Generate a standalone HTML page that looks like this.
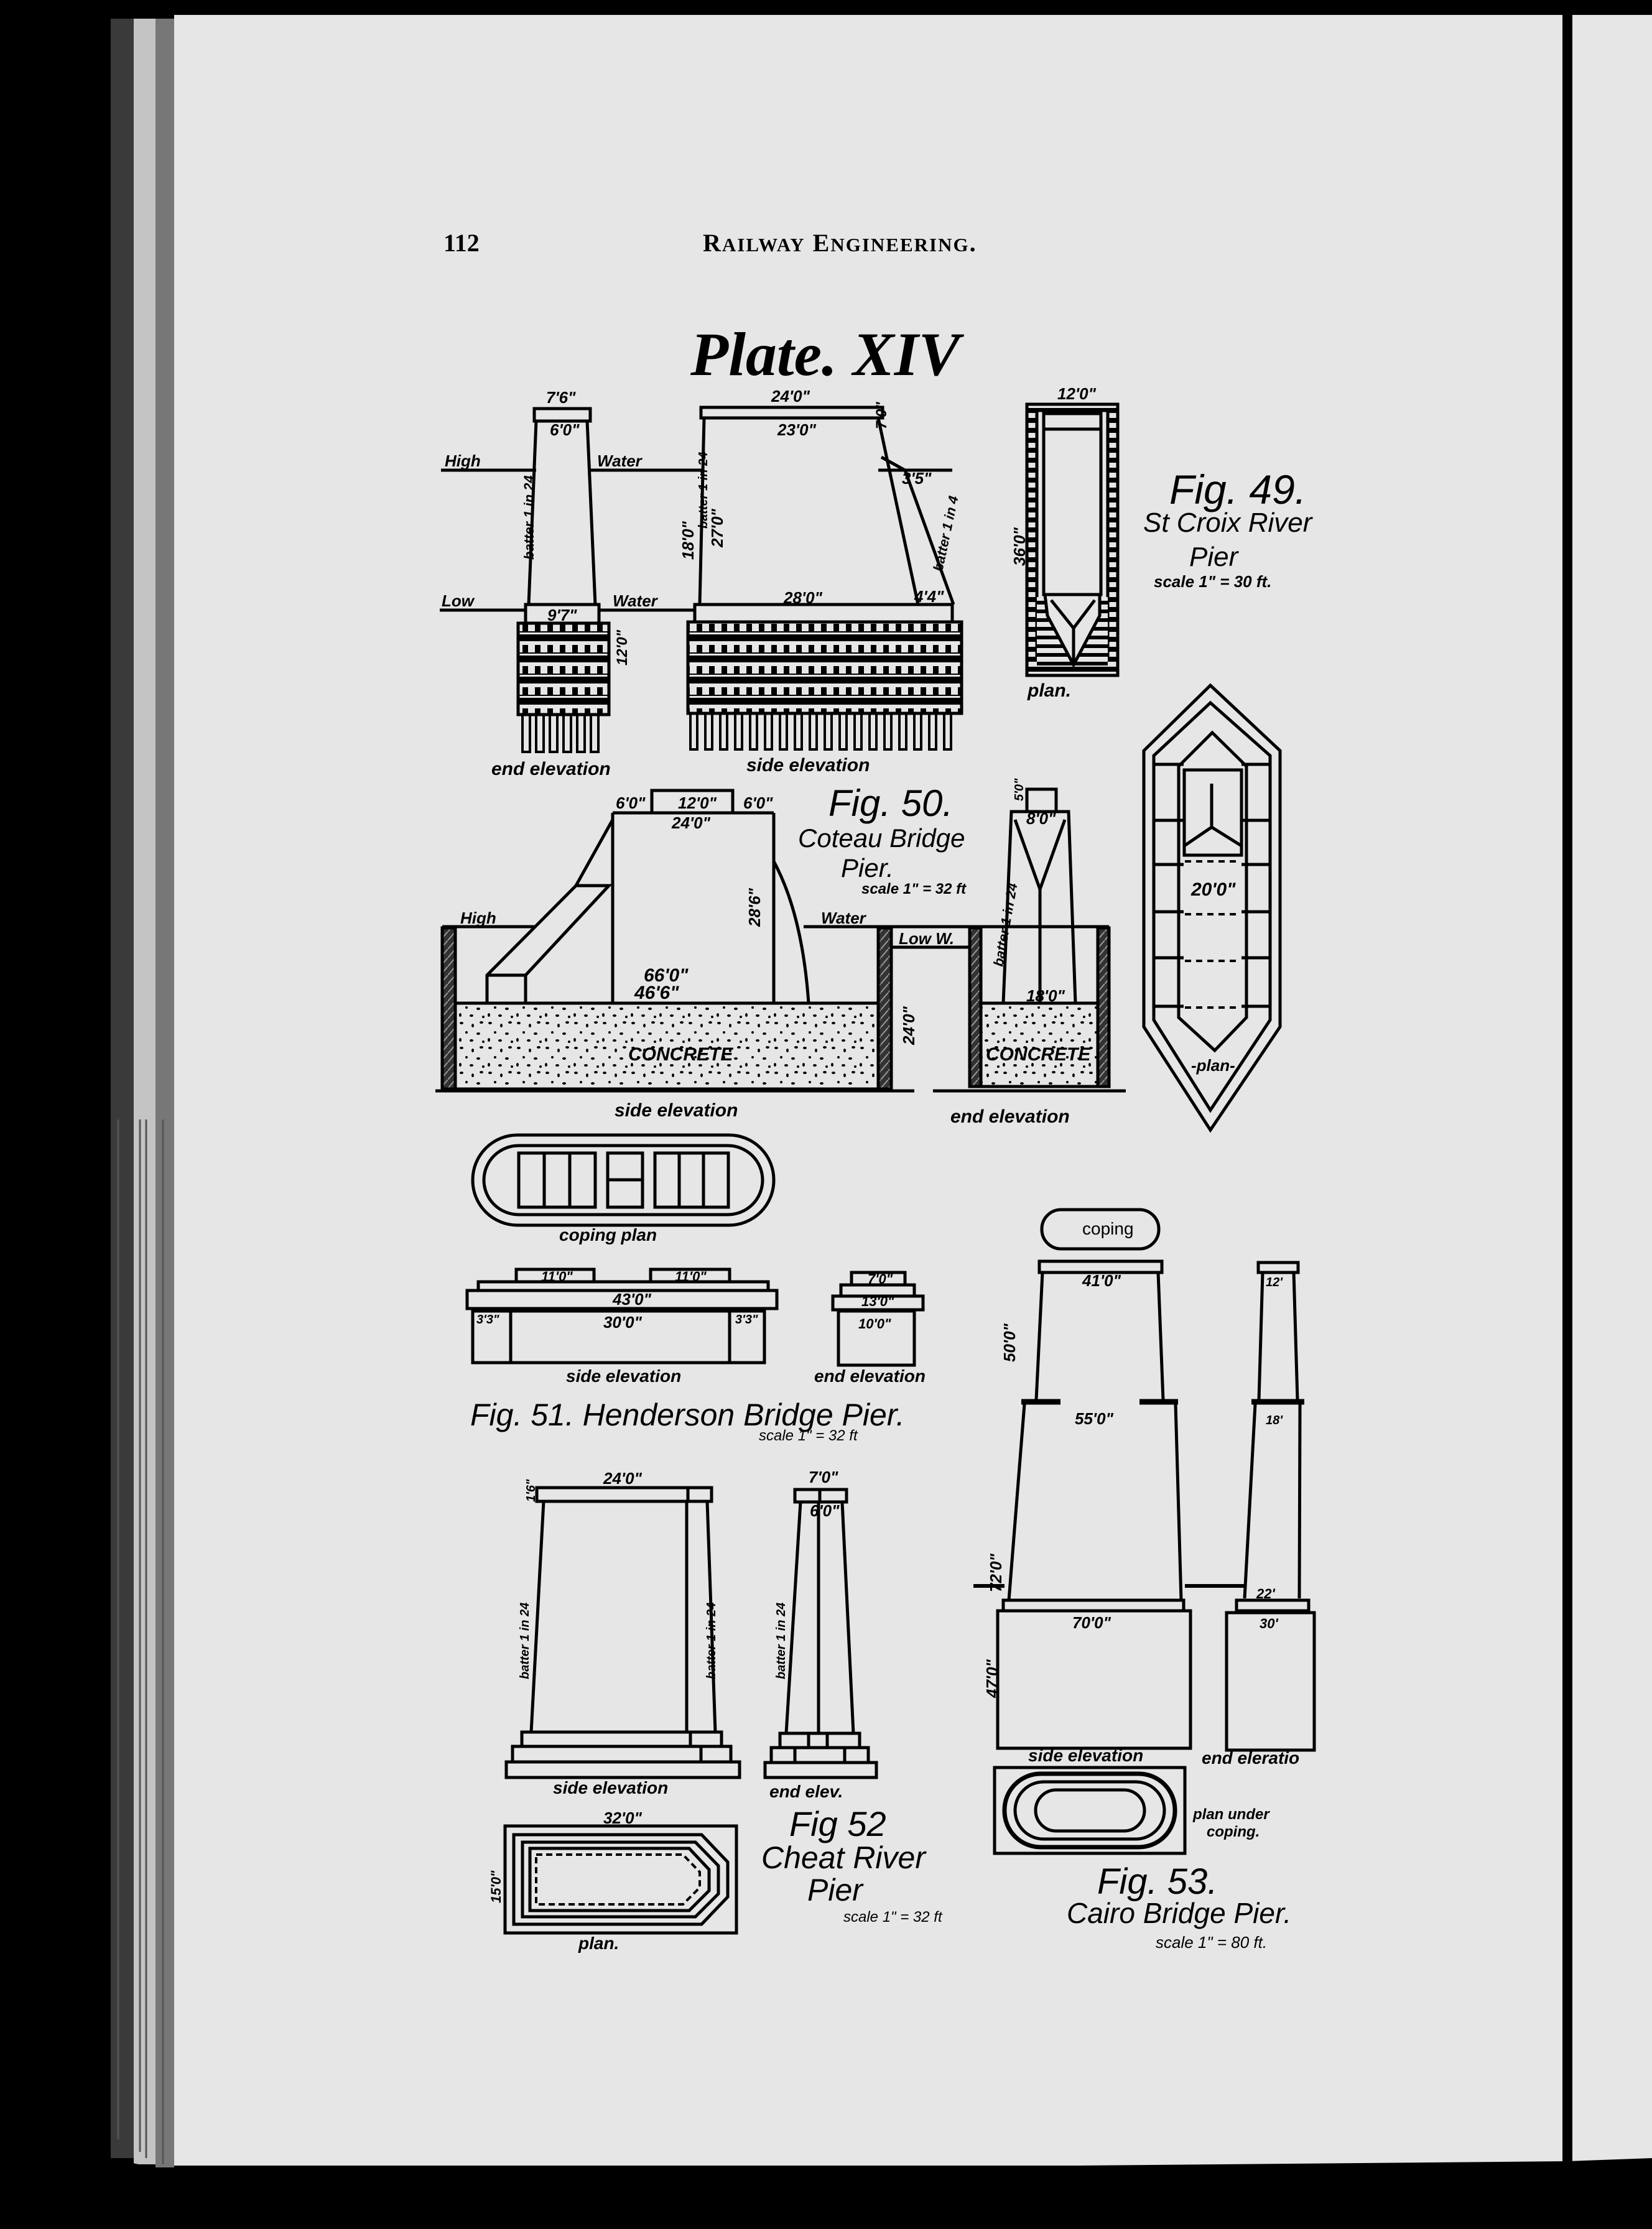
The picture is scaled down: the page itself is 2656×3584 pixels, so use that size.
<!DOCTYPE html>
<html><head><meta charset="utf-8"><style>
html,body{margin:0;padding:0;background:#000;}
svg{display:block}
.h{font-family:"Liberation Sans",sans-serif;font-style:italic;font-weight:bold;fill:#000}
.s{font-family:"Liberation Serif",serif;fill:#000}
</style></head><body>
<svg width="2656" height="3584" viewBox="0 0 2656 3584" xmlns="http://www.w3.org/2000/svg">
<defs>
<pattern id="crib" width="40" height="34" patternUnits="userSpaceOnUse">
<rect width="40" height="34" fill="#e6e6e6"/>
<rect y="0" width="40" height="11" fill="#000"/>
<rect x="0" y="17" width="9" height="12" fill="#000"/>
<rect x="20" y="17" width="9" height="12" fill="#000"/>
<rect y="29" width="40" height="2" fill="#000"/>
</pattern>
<pattern id="conc" width="46" height="40" patternUnits="userSpaceOnUse">
<rect width="46" height="40" fill="#e6e6e6"/>
<ellipse cx="6" cy="5" rx="3" ry="2" fill="#000"/><ellipse cx="24" cy="9" rx="2" ry="3" fill="#000"/>
<ellipse cx="38" cy="4" rx="3" ry="2" fill="#000"/><ellipse cx="14" cy="20" rx="2" ry="2" fill="#000"/>
<ellipse cx="33" cy="22" rx="3" ry="2" fill="#000"/><ellipse cx="4" cy="32" rx="2" ry="3" fill="#000"/>
<ellipse cx="22" cy="33" rx="3" ry="2" fill="#000"/><ellipse cx="41" cy="35" rx="2" ry="2" fill="#000"/>
</pattern>
<pattern id="wall" width="12" height="14" patternUnits="userSpaceOnUse">
<rect width="12" height="14" fill="#333"/><line x1="0" y1="14" x2="12" y2="0" stroke="#999" stroke-width="2"/>
</pattern>
<pattern id="ladder" width="20" height="16" patternUnits="userSpaceOnUse">
<rect width="20" height="16" fill="#e6e6e6"/><rect y="0" width="20" height="8" fill="#000"/>
</pattern>
<pattern id="hatch" width="20" height="14" patternUnits="userSpaceOnUse">
<rect width="20" height="14" fill="#e6e6e6"/><rect y="0" width="20" height="6" fill="#000"/>
</pattern>
</defs>
<!-- page -->
<rect x="0" y="0" width="2656" height="3584" fill="#000"/>
<rect x="280" y="22" width="2376" height="3460" fill="#e6e6e6"/>
<rect x="178" y="30" width="37" height="3440" fill="#3a3a3a"/>
<rect x="215" y="30" width="35" height="3450" fill="#c4c4c4"/>
<rect x="250" y="30" width="30" height="3455" fill="#777"/>
<g stroke="#555" stroke-width="3">
<line x1="190" y1="1800" x2="190" y2="3440"/><line x1="225" y1="1800" x2="225" y2="3460"/>
<line x1="235" y1="1800" x2="235" y2="3470"/><line x1="262" y1="1800" x2="262" y2="3480"/>
</g>
<polygon points="178,3470 290,3495 2520,3475 2656,3470 2656,3584 0,3584 0,3470" fill="#000"/>
<rect x="2512" y="0" width="16" height="3480" fill="#000"/>
<rect x="0" y="0" width="2656" height="24" fill="#000"/>

<!-- header -->
<text x="713" y="404" class="s" font-size="40" font-weight="bold">112</text>
<text x="1130" y="404" class="s" font-size="40" font-weight="bold" letter-spacing="2">R<tspan font-size="31">AILWAY</tspan> E<tspan font-size="31">NGINEERING</tspan>.</text>
<text x="1110" y="603" class="s" font-size="100" font-weight="bold" font-style="italic">Plate. XIV</text>

<g fill="none" stroke="#000" stroke-width="5">
<!-- Fig 49 end elevation -->
<rect x="859" y="657" width="90" height="20"/>
<polygon points="862,677 944,677 957,972 850,972"/>
<line x1="709" y1="756" x2="862" y2="756"/><line x1="948" y1="756" x2="1130" y2="756"/><line x1="1412" y1="756" x2="1531" y2="756"/>
<line x1="707" y1="981" x2="845" y2="981"/><line x1="963" y1="981" x2="1117" y2="981"/>
<rect x="845" y="972" width="118" height="30"/>
<rect x="833" y="1002" width="146" height="147" fill="url(#crib)"/>
<!-- Fig 49 side elevation -->
<rect x="1127" y="655" width="292" height="17"/>
<polyline points="1132,672 1125,972"/><polyline points="1412,672 1476,972"/>
<polyline points="1417,735 1455,756 1533,972"/>
<rect x="1117" y="972" width="414" height="28"/>
<rect x="1106" y="1000" width="440" height="147" fill="url(#crib)"/>
<!-- Fig 49 plan -->
<rect x="1651" y="650" width="146" height="436" fill="url(#ladder)"/>
<rect x="1667" y="660" width="114" height="400" fill="#e6e6e6"/>
<rect x="1667" y="960" width="114" height="110" fill="url(#hatch)" stroke="none"/>
<polygon points="1678,665 1770,665 1770,956 1678,956" fill="#e6e6e6"/>
<line x1="1678" y1="690" x2="1770" y2="690"/>
<polygon points="1680,956 1768,956 1768,990 1726,1069 1684,990" fill="#e6e6e6"/>
<polyline points="1690,965 1726,1010 1760,965"/><line x1="1726" y1="1010" x2="1726" y2="1065"/>
</g>
<!-- piles -->
<g fill="none" stroke="#000" stroke-width="4">
<path d="M840 1149v60h12v-60M862 1149v60h12v-60M884 1149v60h12v-60M906 1149v60h12v-60M928 1149v60h12v-60M950 1149v60h12v-60"/>
<path d="M1110 1147v58h11v-58M1134 1147v58h11v-58M1158 1147v58h11v-58M1182 1147v58h11v-58M1206 1147v58h11v-58M1230 1147v58h11v-58M1254 1147v58h11v-58M1278 1147v58h11v-58M1302 1147v58h11v-58M1326 1147v58h11v-58M1350 1147v58h11v-58M1374 1147v58h11v-58M1398 1147v58h11v-58M1422 1147v58h11v-58M1446 1147v58h11v-58M1470 1147v58h11v-58M1494 1147v58h11v-58M1518 1147v58h11v-58"/>
</g>
<g class="h" font-size="26">
<text x="878" y="648" class="h">7'6"</text><text x="884" y="700" class="h">6'0"</text>
<text x="715" y="750" class="h">High</text><text x="960" y="750" class="h">Water</text>
<text x="710" y="975" class="h">Low</text><text x="985" y="975" class="h">Water</text>
<text x="880" y="998" class="h">9'7"</text>
<text x="1240" y="646" class="h">24'0"</text><text x="1250" y="700" class="h">23'0"</text>
<text x="1260" y="970" class="h">28'0"</text><text x="1450" y="778" class="h">3'5"</text><text x="1470" y="968" class="h">4'4"</text>
<text x="1700" y="642" class="h">12'0"</text>
<text x="790" y="1246" class="h" font-size="30">end elevation</text>
<text x="1200" y="1240" class="h" font-size="30">side elevation</text>
<text x="1652" y="1120" class="h" font-size="30">plan.</text>
<text transform="translate(858,900) rotate(-90)" class="h" font-size="22">batter 1 in 24</text>
<text transform="translate(1008,1070) rotate(-90)" class="h" font-size="24">12'0"</text>
<text transform="translate(1115,900) rotate(-90)" class="h" font-size="26">18'0"</text>
<text transform="translate(1162,880) rotate(-90)" class="h" font-size="26">27'0"</text>
<text transform="translate(1137,850) rotate(-90)" class="h" font-size="20">batter 1 in 24</text>
<text transform="translate(1515,920) rotate(-78)" class="h" font-size="22">batter 1 in 4</text>
<text transform="translate(1648,910) rotate(-90)" class="h" font-size="26">36'0"</text>
<text transform="translate(1425,690) rotate(-90)" class="h" font-size="24">7'0"</text>
</g>
<g class="h" font-weight="normal">
<text x="1880" y="810" font-size="66" font-weight="normal">Fig. 49.</text>
<text x="1838" y="855" font-size="44" font-weight="normal">St Croix River</text>
<text x="1912" y="910" font-size="44" font-weight="normal">Pier</text>
<text x="1855" y="944" font-size="26">scale 1" = 30 ft.</text>
</g>

<!-- Fig 50 side elevation -->
<g fill="none" stroke="#000" stroke-width="5">
<rect x="732" y="1613" width="680" height="138" fill="url(#conc)"/>
<rect x="711" y="1492" width="21" height="259" fill="url(#wall)"/>
<rect x="1412" y="1492" width="21" height="259" fill="url(#wall)"/>
<rect x="1048" y="1271" width="130" height="36"/>
<line x1="985" y1="1307" x2="1244" y2="1307"/>
<line x1="985" y1="1307" x2="985" y2="1613"/><line x1="1244" y1="1307" x2="1244" y2="1613"/>
<polyline points="985,1318 926,1424 783,1568 783,1613"/>
<polyline points="926,1424 979,1424 845,1568 845,1613"/><line x1="783" y1="1568" x2="845" y2="1568"/>
<path d="M1244 1385 Q1290 1470 1300 1613"/>
<line x1="711" y1="1490" x2="859" y2="1490"/><line x1="1292" y1="1490" x2="1783" y2="1490"/>
<line x1="700" y1="1754" x2="1470" y2="1754"/><line x1="1500" y1="1754" x2="1810" y2="1754"/>
<line x1="1433" y1="1523" x2="1559" y2="1523"/>
<!-- end elevation -->
<rect x="1577" y="1613" width="188" height="134" fill="url(#conc)"/>
<rect x="1559" y="1492" width="18" height="255" fill="url(#wall)"/>
<rect x="1765" y="1492" width="18" height="255" fill="url(#wall)"/>
<rect x="1651" y="1269" width="47" height="36"/>
<polygon points="1626,1305 1718,1305 1729,1613 1613,1613"/>
<polyline points="1632,1318 1672,1430 1712,1318"/><line x1="1672" y1="1430" x2="1672" y2="1613"/>
<!-- plan hexagon -->
<polygon points="1946,1102 2058,1207 2058,1651 1946,1817 1839,1651 1839,1207"/>
<polygon points="1946,1130 2042,1215 2042,1640 1946,1785 1855,1640 1855,1215"/>
<polygon points="1949,1178 2004,1232 2004,1636 1953,1689 1895,1636 1895,1232"/>
<polygon points="1904,1238 1996,1238 1996,1375 1904,1375"/>
<polyline points="1904,1360 1948,1330 1996,1360"/>
<line x1="1948" y1="1260" x2="1948" y2="1330"/>
<path d="M1855 1229h48M1996 1229h46M1855 1319h48M1996 1319h46M1855 1390h48M1996 1390h46M1855 1466h48M1996 1466h46M1855 1540h48M1996 1540h46M1855 1618h48M1996 1618h46"/>
<path d="M1905 1385h90M1905 1470h90M1905 1545h90M1905 1620h90" stroke-dasharray="10 8" stroke-width="4"/>
<!-- coping plan -->
<rect x="760" y="1825" width="484" height="145" rx="72"/>
<rect x="778" y="1842" width="448" height="111" rx="56"/>
<rect x="834" y="1854" width="123" height="87"/><path d="M875 1854v87M916 1854v87"/>
<rect x="977" y="1854" width="56" height="87"/><path d="M977 1897h56"/>
<rect x="1053" y="1854" width="118" height="87"/><path d="M1092 1854v87M1131 1854v87"/>
<!-- Fig51 side elev -->
<rect x="830" y="2041" width="125" height="20"/><rect x="1046" y="2041" width="127" height="20"/>
<rect x="769" y="2061" width="466" height="14"/>
<rect x="751" y="2075" width="498" height="29"/>
<rect x="760" y="2108" width="469" height="83"/><path d="M821 2108v83M1173 2108v83"/>
<rect x="1369" y="2046" width="86" height="20"/><rect x="1352" y="2066" width="118" height="18"/>
<rect x="1339" y="2084" width="145" height="22"/><rect x="1348" y="2108" width="122" height="87"/>
<!-- Fig 52 -->
<rect x="863" y="2392" width="281" height="22"/><line x1="1106" y1="2392" x2="1106" y2="2414"/>
<line x1="874" y1="2414" x2="854" y2="2785"/><line x1="1104" y1="2414" x2="1104" y2="2785"/><line x1="1137" y1="2414" x2="1150" y2="2785"/>
<rect x="839" y="2785" width="321" height="23"/><rect x="824" y="2808" width="351" height="25"/><rect x="814" y="2833" width="375" height="25"/>
<path d="M1110 2785v23M1127 2808v25"/>
<rect x="1278" y="2395" width="83" height="20"/><line x1="1318" y1="2395" x2="1318" y2="2415"/>
<line x1="1287" y1="2415" x2="1264" y2="2787"/><line x1="1354" y1="2415" x2="1372" y2="2787"/><line x1="1316" y1="2415" x2="1316" y2="2787"/>
<rect x="1254" y="2787" width="128" height="23"/><rect x="1240" y="2810" width="156" height="24"/><rect x="1230" y="2834" width="179" height="24"/>
<path d="M1300 2787v23M1330 2787v23M1278 2810v24M1358 2810v24"/>
<rect x="812" y="2936" width="372" height="172"/>
<polygon points="826,2950 1128,2950 1170,2994 1170,3050 1128,3094 826,3094"/>
<polygon points="840,2962 1118,2962 1155,3000 1155,3045 1118,3082 840,3082"/>
<polygon points="852,2972 1108,2972 1140,3006 1140,3040 1108,3072 852,3072"/>
<polygon points="862,2982 1098,2982 1125,3010 1125,3035 1098,3062 862,3062" stroke-dasharray="10 6" stroke-width="4"/>
<!-- Fig 53 -->
<rect x="1675" y="1945" width="188" height="63" rx="31"/>
<rect x="1671" y="2028" width="197" height="18"/>
<polyline points="1676,2046 1666,2251"/><polyline points="1862,2046 1870,2251"/>
<path d="M1642 2254h63M1832 2254h62" stroke-width="9"/>
<line x1="1647" y1="2258" x2="1622" y2="2573"/><line x1="1890" y1="2258" x2="1899" y2="2573"/>
<rect x="1613" y="2573" width="290" height="17"/><rect x="1604" y="2590" width="310" height="221"/>
<path d="M1565 2550h50M1905 2550h95" stroke-width="6"/>
<rect x="2023" y="2030" width="64" height="16"/>
<line x1="2030" y1="2046" x2="2024" y2="2251"/><line x1="2080" y1="2046" x2="2086" y2="2251"/>
<path d="M2012 2254h85" stroke-width="9"/>
<line x1="2018" y1="2258" x2="2001" y2="2570"/><line x1="2090" y1="2258" x2="2089" y2="2570"/>
<rect x="1988" y="2573" width="116" height="17"/><rect x="1972" y="2593" width="141" height="221"/>
<rect x="1599" y="2842" width="306" height="138"/>
<rect x="1615" y="2852" width="274" height="118" rx="58" stroke-width="7"/>
<rect x="1632" y="2865" width="240" height="92" rx="46"/>
<rect x="1665" y="2878" width="175" height="66" rx="33"/>
</g>
<g class="h" font-size="26">
<text x="990" y="1300">6'0"</text><text x="1090" y="1300">12'0"</text><text x="1195" y="1300">6'0"</text>
<text x="1080" y="1332">24'0"</text><text x="1035" y="1578" font-size="30">66'0"</text><text x="1020" y="1606" font-size="30">46'6"</text>
<text x="740" y="1485">High</text><text x="1320" y="1485">Water</text><text x="1445" y="1518">Low W.</text>
<text x="1010" y="1705" font-size="30">CONCRETE</text><text x="1585" y="1705" font-size="30">CONCRETE</text>
<text x="1650" y="1325">8'0"</text><text x="1650" y="1610">18'0"</text><text x="1915" y="1440" font-size="30">20'0"</text>
<text x="1915" y="1722">-plan-</text>
<text transform="translate(1222,1490) rotate(-90)">28'6"</text>
<text transform="translate(1470,1680) rotate(-90)">24'0"</text>
<text transform="translate(1645,1288) rotate(-90)" font-size="20">5'0"</text>
<text transform="translate(1612,1555) rotate(-80)" font-size="22">batter 1 in 24</text>
<text x="988" y="1795" font-size="30">side elevation</text><text x="1528" y="1805" font-size="30">end elevation</text>
<text x="899" y="1995" font-size="28">coping plan</text>
<text x="870" y="2060" font-size="22">11'0"</text><text x="1085" y="2060" font-size="22">11'0"</text>
<text x="985" y="2098">43'0"</text><text x="970" y="2135">30'0"</text><text x="766" y="2128" font-size="20">3'3"</text><text x="1182" y="2128" font-size="20">3'3"</text>
<text x="1395" y="2064" font-size="22">7'0"</text><text x="1385" y="2100" font-size="22">13'0"</text><text x="1380" y="2136" font-size="22">10'0"</text>
<text x="910" y="2222" font-size="28">side elevation</text><text x="1309" y="2222" font-size="28">end elevation</text>
<text x="1220" y="2316" font-size="24" font-weight="normal">scale 1" = 32 ft</text>
<text x="970" y="2386">24'0"</text><text x="1300" y="2384">7'0"</text><text x="1302" y="2438">6'0"</text>
<text x="889" y="2884" font-size="28">side elevation</text><text x="1237" y="2890" font-size="28">end elev.</text>
<text x="970" y="2932">32'0"</text><text x="930" y="3134" font-size="28">plan.</text>
<text transform="translate(850,2700) rotate(-90)" font-size="20">batter 1 in 24</text>
<text transform="translate(1150,2700) rotate(-90)" font-size="20">batter 1 in 24</text>
<text transform="translate(1262,2700) rotate(-90)" font-size="20">batter 1 in 24</text>
<text transform="translate(860,2415) rotate(-90)" font-size="20">1'6"</text>
<text transform="translate(805,3060) rotate(-90)" font-size="22">15'0"</text>
<text x="1356" y="3090" font-size="24" font-weight="normal">scale 1" = 32 ft</text>
<text x="1740" y="1985" font-size="28" font-weight="normal" font-style="normal">coping</text>
<text x="1740" y="2068">41'0"</text><text x="1728" y="2290">55'0"</text><text x="1724" y="2618">70'0"</text>
<text x="2035" y="2068" font-size="20">12'</text><text x="2035" y="2290" font-size="20">18'</text>
<text x="2020" y="2570" font-size="22">22'</text><text x="2025" y="2618" font-size="22">30'</text>
<text transform="translate(1632,2190) rotate(-90)">50'0"</text>
<text transform="translate(1610,2560) rotate(-90)">72'0"</text>
<text transform="translate(1604,2730) rotate(-90)">47'0"</text>
<text x="1653" y="2832" font-size="28">side elevation</text><text x="1932" y="2836" font-size="28">end eleratio</text>
<text x="1918" y="2925" font-size="24">plan under</text><text x="1940" y="2953" font-size="24">coping.</text>
<text x="1858" y="3132" font-size="26" font-weight="normal">scale 1" = 80 ft.</text>
</g>
<g class="h" font-weight="normal">
<text x="1332" y="1312" font-size="60" font-weight="normal">Fig. 50.</text>
<text x="1283" y="1362" font-size="42" font-weight="normal">Coteau Bridge</text>
<text x="1352" y="1410" font-size="42" font-weight="normal">Pier.</text>
<text x="1385" y="1437" font-size="24">scale 1" = 32 ft</text>
<text x="756" y="2292" font-size="50" font-weight="normal">Fig. 51.  Henderson  Bridge Pier.</text>
<text x="1269" y="2952" font-size="56" font-weight="normal">Fig 52</text>
<text x="1224" y="3004" font-size="50" font-weight="normal">Cheat River</text>
<text x="1298" y="3056" font-size="50" font-weight="normal">Pier</text>
<text x="1764" y="3045" font-size="58" font-weight="normal">Fig. 53.</text>
<text x="1715" y="3092" font-size="46" font-weight="normal">Cairo Bridge Pier.</text>
</g>
</svg>
</body></html>
